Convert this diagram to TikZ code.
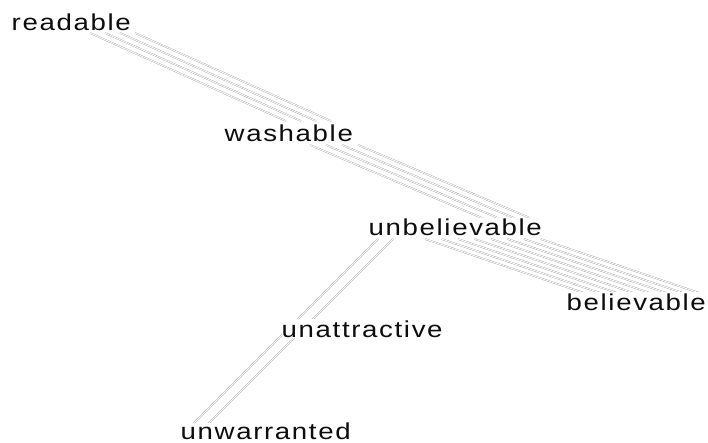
\documentclass[tikz,border=0pt]{standalone}
\usepackage{fontspec}
\usepackage{graphicx}
\usetikzlibrary{calc,backgrounds}
\newfontfamily\lblfont[LetterSpace=6]{Liberation Sans}
\newcommand{\wordlbl}[1]{\scalebox{1.2}[1]{\fontsize{23}{27}\selectfont\lblfont #1}}
\begin{document}
\begin{tikzpicture}[x=1pt,y=-1pt,
  word/.style={anchor=base west, inner xsep=0pt, inner ysep=1.2pt, fill=white, text=black!95},
  edgeline/.style={draw=black!38, line width=0.35pt, double=white, double distance=0.9pt}]
\useasboundingbox (0,0) rectangle (708,443);
\node[word] (readable) at (11.5,31) {\wordlbl{readable}};
\node[word] (washable) at (224.5,142) {\wordlbl{washable}};
\node[word] (unbelievable) at (368.5,236) {\wordlbl{unbelievable}};
\node[word] (believable) at (566.5,310) {\wordlbl{believable}};
\node[word] (unattractive) at (281.5,337) {\wordlbl{unattractive}};
\node[word, inner ysep=0pt] (unwarranted) at (180.5,439.5) {\wordlbl{unwarranted}};
\begin{pgfonlayer}{background}
% readable -> washable
\foreach \k in {0,1,2,3}{
  \draw[edgeline] ($(readable.base west)+(78.5+15*\k,2)$) -- ($(washable.base west)+(61.5+15*\k,-21)$);
}
% washable -> unbelievable
\foreach \k in {0,1,2,3}{
  \draw[edgeline] ($(washable.base west)+(85.5+16*\k,3)$) -- ($(unbelievable.base west)+(113.5+16*\k,-18)$);
}
% unbelievable -> believable
\foreach \k in {0,...,7}{
  \draw[edgeline] ($(unbelievable.base west)+(56.5+16.5*\k,3)$) -- ($(believable.base west)+(17.5+16.5*\k,-17)$);
}
% unbelievable -> unattractive -> unwarranted
\foreach \k in {0,1}{
  \draw[edgeline] ($(unbelievable.base west)+(9.5+15*\k,3)$) -- ($(unattractive.base west)+(5.5+15*\k,-7)$) -- ($(unwarranted.base west)+(12.5+15*\k,-15.5)$);
}
\end{pgfonlayer}
\end{tikzpicture}
\end{document}
